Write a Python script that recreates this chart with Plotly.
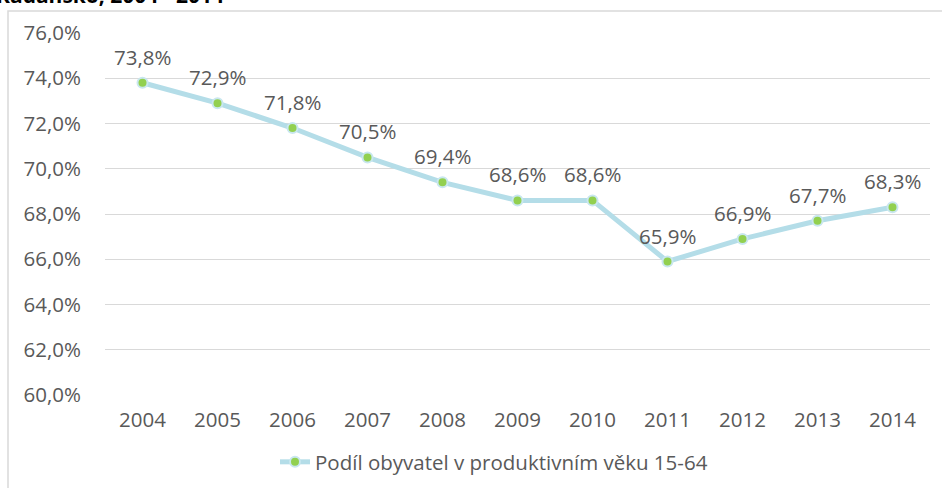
import plotly.graph_objects as go

years = [2004, 2005, 2006, 2007, 2008, 2009, 2010, 2011, 2012, 2013, 2014]
share = [73.8, 72.9, 71.8, 70.5, 69.4, 68.6, 68.6, 65.9, 66.9, 67.7, 68.3]
series_name = "Podíl obyvatel v produktivním věku 15-64"
title_text = "Kadaňsko, 2004 - 2014"

W, H = 942, 488
L, R, T, B = 105, 12, 33, 93
pw, ph = W - L - R, H - T - B

def px2x(p):
    return (p - L) / pw

def px2y(p):
    return (H - B - p) / ph

FONT = "Open Sans"
TXT = "#595959"
FS = 20.5

fig = go.Figure()
fig.add_trace(go.Scatter(
    x=years, y=[v / 100 for v in share], mode="lines+markers", name=series_name,
    line=dict(color="#B4DDE8", width=5),
    marker=dict(color="#92D050", size=10, line=dict(color="#C9E7EF", width=2)),
))

annotations = []
for yr, v in zip(years, share):
    annotations.append(dict(
        x=yr, y=v / 100, xref="x", yref="y", text=f"{v:.1f}%".replace(".", ","),
        showarrow=False, yanchor="bottom", yshift=10,
        font=dict(family=FONT, size=FS, color=TXT),
    ))
annotations.append(dict(
    x=px2x(-6), y=px2y(11), xref="paper", yref="paper", xanchor="left", yanchor="bottom",
    text=f"<b>{title_text}</b>", showarrow=False,
    font=dict(family=FONT, size=21, color="#000000"),
))

fig.update_layout(
    width=W, height=H,
    margin=dict(l=L, r=R, t=T, b=B, autoexpand=False),
    paper_bgcolor="white", plot_bgcolor="white",
    separators=", ",
    font=dict(family=FONT, size=FS, color=TXT),
    showlegend=True,
    legend=dict(orientation="h", x=px2x(494), xanchor="center", y=px2y(462), yanchor="middle",
                font=dict(family=FONT, size=FS, color=TXT)),
    annotations=annotations,
    shapes=[dict(type="rect", xref="paper", yref="paper",
                 x0=px2x(8), x1=px2x(960), y0=px2y(500), y1=px2y(11),
                 line=dict(color="#D9D9D9", width=1.5), layer="below")],
    xaxis=dict(range=[years[0] - 0.5, years[-1] + 0.5], tickvals=years,
               ticktext=[str(y) for y in years], showgrid=False, zeroline=False, showline=False,
               ticks="outside", ticklen=6, tickcolor="rgba(0,0,0,0)",
               tickfont=dict(family=FONT, size=FS, color=TXT)),
    yaxis=dict(range=[0.60, 0.76], dtick=0.02, tickformat=".1%", showgrid=True,
               gridcolor="#D9D9D9", gridwidth=1, zeroline=False, showline=False,
               ticks="outside", ticklen=19, tickcolor="rgba(0,0,0,0)",
               tickfont=dict(family=FONT, size=FS, color=TXT)),
)

fig.write_html("out.html", config={"displayModeBar": False},
               post_script="document.body.style.margin='0';")
